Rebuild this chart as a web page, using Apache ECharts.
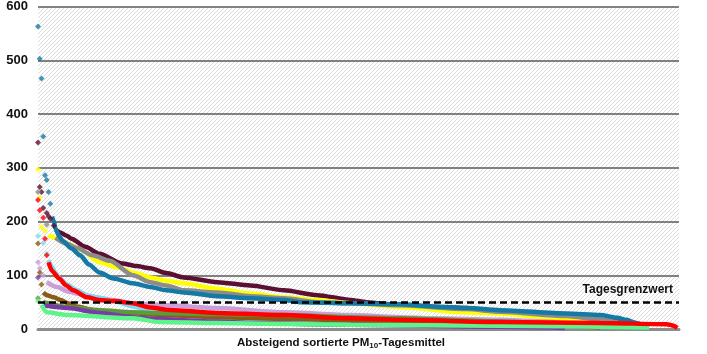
<!DOCTYPE html>
<html>
<head>
<meta charset="utf-8">
<script src="https://cdn.jsdelivr.net/npm/echarts@6/dist/echarts.min.js"></script>
<style>
  html, body { margin: 0; padding: 0; background: #fff; }
  #main { width: 707px; height: 354px; }
</style>
</head>
<body>
<div id="main"></div>
<script>
// y axis
var yTicks = [0, 100, 200, 300, 400, 500, 600];
var limitValue = 50;
var limitLabel = 'Tagesgrenzwert';
var xTitle = 'Absteigend sortierte PM{sub|10}-Tagesmittel';

// sorted daily means, [day rank, value]; head = single scattered markers, body = dense run
var tealHead = [[0, 563], [1, 503], [2, 466], [3, 358], [4, 286], [5, 277], [6, 255], [7, 233]];
var tealBody = [[8, 209], [9, 201], [10, 186], [12, 173], [14, 164], [19, 150], [24, 137], [29, 120], [35, 105], [43, 94], [54, 85], [64, 78], [73, 72], [83, 68], [102, 61], [121, 57], [140, 54], [149, 50], [178, 48], [206, 46], [225, 42], [244, 39], [263, 35], [301, 29], [320, 26], [330, 21], [335, 17], [341, 11], [343, 7]];

var maroonHead = [[0, 347], [1, 264], [2, 255], [3, 225], [5, 216], [6, 210], [7, 205], [9, 192]];
var maroonBody = [[10, 185], [13, 179], [16, 174], [19, 168], [27, 153], [35, 140], [48, 122], [56, 117], [64, 113], [73, 104], [83, 96], [102, 87], [121, 81], [140, 72], [159, 63], [178, 54], [187, 50], [206, 44], [225, 41], [244, 39], [263, 31], [301, 22], [320, 17], [338, 11], [348, 6]];

var yellowHead = [[0, 297], [1, 244], [2, 190], [4, 183]];
var yellowBody = [[6, 174], [12, 168], [18, 157], [25, 146], [35, 124], [45, 115], [54, 105], [64, 96], [73, 90], [83, 85], [102, 75], [121, 66], [140, 59], [159, 54], [178, 48], [206, 41], [244, 31], [263, 29], [301, 17], [320, 11], [328, 6]];

var greyHead = [[0, 255], [5, 194]];
var greyBody = [[10, 170], [16, 159], [22, 151], [31, 137], [41, 127], [54, 100], [64, 87], [73, 81], [83, 72], [102, 68], [121, 61], [140, 57], [159, 50], [178, 48], [206, 44], [244, 37], [263, 32], [301, 24], [320, 18], [335, 10], [340, 5]];

var redHead = [[0, 240], [1, 221], [3, 207], [4, 168], [5, 137]];
var redBody = [[6, 124], [8, 108], [12, 94], [16, 81], [20, 72], [28, 59], [35, 54], [43, 52], [54, 48], [64, 40], [73, 36], [102, 30], [140, 26], [178, 20], [206, 17], [263, 13], [320, 11], [358, 9], [362, 6], [364, 2]];

var cyanHead = [[0, 173], [3, 160], [5, 140]];
var cyanBody = [[6, 128], [8, 115], [10, 104], [13, 92], [17, 82], [22, 72], [28, 63], [36, 57], [43, 52], [54, 42], [64, 33], [73, 28], [102, 20], [140, 17], [178, 14], [206, 12], [263, 8], [320, 6], [335, 4]];

var lilacHead = [[0, 124], [1, 113], [3, 100]];
var lilacBody = [[5, 87], [11, 78], [17, 70], [22, 66], [32, 59], [43, 54], [54, 48], [64, 46], [73, 44], [102, 39], [140, 31], [178, 26], [206, 22], [225, 20], [263, 17], [290, 14], [300, 10]];

var brownHead = [[0, 159], [1, 105], [2, 83]];
var brownBody = [[3, 68], [5, 63], [9, 59], [13, 54], [17, 48], [22, 42], [32, 35], [43, 31], [54, 30], [64, 27], [102, 22], [140, 19], [178, 16], [225, 12], [263, 9], [301, 6], [320, 3]];

var greenHead = [[0, 57]];
var greenBody = [[3, 50], [17, 41], [35, 35], [54, 31], [64, 30], [102, 28], [140, 26], [178, 22], [206, 20], [263, 14], [301, 9], [330, 5]];

var purpleHead = [[0, 96]];
var purpleBody = [[3, 44], [17, 39], [35, 30], [54, 22], [64, 19], [102, 14], [121, 11], [178, 8], [263, 4], [300, 2]];

var lgreenHead = [[0, 52]];
var lgreenBody = [[2, 45], [5, 31], [17, 26], [54, 20], [69, 13], [102, 11], [178, 8], [263, 6], [348, 3]];

var stations = [
  { name: 'S1', color: '#5b0f32', head: maroonHead, body: maroonBody },
  { name: 'S2', color: '#ffff00', head: yellowHead, body: yellowBody },
  { name: 'S3', color: '#8c8c8c', head: greyHead, body: greyBody },
  { name: 'S4', color: '#1479a5', head: tealHead, body: tealBody },
  { name: 'S5', color: '#c89fd8', head: lilacHead, body: lilacBody },
  { name: 'S6', color: '#7fd7f7', head: cyanHead, body: cyanBody },
  { name: 'S7', color: '#8b5a14', head: brownHead, body: brownBody },
  { name: 'S8', color: '#5b9b3a', head: greenHead, body: greenBody },
  { name: 'S9', color: '#7a3ba8', head: purpleHead, body: purpleBody },
  { name: 'S10', color: '#5df58a', head: lgreenHead, body: lgreenBody },
  { name: 'S11', color: '#ff0000', head: redHead, body: redBody }
];

// hatch tile for the plot background
var tile = document.createElement('canvas');
tile.width = 4;
tile.height = 4;
var ctx = tile.getContext('2d');
ctx.fillStyle = '#ffffff';
ctx.fillRect(0, 0, 4, 4);
ctx.strokeStyle = '#dcdcdc';
ctx.lineWidth = 1;
ctx.beginPath();
ctx.moveTo(-1, 5); ctx.lineTo(5, -1);
ctx.moveTo(-1, 1); ctx.lineTo(1, -1);
ctx.moveTo(3, 5); ctx.lineTo(5, 3);
ctx.stroke();

var series = [];
stations.forEach(function (s) {
  series.push({
    name: s.name,
    type: 'line',
    data: s.body,
    symbol: 'none',
    smooth: 0.25,
    smoothMonotone: 'x',
    lineStyle: { color: s.color, width: 4.5 },
    z: 3
  });
  series.push({
    name: s.name,
    type: 'scatter',
    data: s.head,
    symbol: 'diamond',
    symbolSize: 6,
    itemStyle: { color: s.color },
    z: 3
  });
});

series.push({
  type: 'line',
  data: [],
  markLine: {
    silent: true,
    symbol: 'none',
    lineStyle: { color: '#000', width: 2.5, type: [7, 4] },
    label: {
      position: 'insideEndTop',
      formatter: limitLabel,
      color: '#111',
      fontWeight: 'bold',
      fontSize: 12,
      fontFamily: 'Liberation Sans',
      distance: 6
    },
    data: [{ yAxis: limitValue }]
  },
  z: 5
});

var myChart = echarts.init(document.getElementById('main'));
myChart.setOption({
  animation: false,
  backgroundColor: '#fff',
  title: {
    text: xTitle,
    left: 237,
    top: 336,
    padding: 0,
    textStyle: {
      fontSize: 11.5,
      fontWeight: 'bold',
      fontFamily: 'Liberation Sans',
      color: '#111',
      rich: {
        sub: { fontSize: 8, fontWeight: 'bold', fontFamily: 'Liberation Sans', color: '#111', padding: [6, 0, 0, 0] }
      }
    }
  },
  grid: {
    left: 38,
    right: 28,
    top: 4,
    bottom: 25,
    show: true,
    borderWidth: 0,
    backgroundColor: { image: tile, repeat: 'repeat' }
  },
  xAxis: {
    type: 'value',
    min: 0,
    max: 365,
    axisLine: { show: true, lineStyle: { color: '#8c8c8c', width: 3 } },
    axisTick: { show: false },
    axisLabel: { show: false },
    splitLine: { show: false }
  },
  yAxis: {
    type: 'value',
    min: yTicks[0],
    max: yTicks[yTicks.length - 1],
    interval: 100,
    axisLine: { show: false },
    axisTick: { show: false },
    axisLabel: {
      margin: 10,
      color: '#111',
      fontWeight: 'bold',
      fontSize: 13,
      fontFamily: 'Liberation Sans'
    },
    splitLine: { lineStyle: { color: '#5a5a5a', width: 1.5 } }
  },
  series: series
});
</script>
</body>
</html>
